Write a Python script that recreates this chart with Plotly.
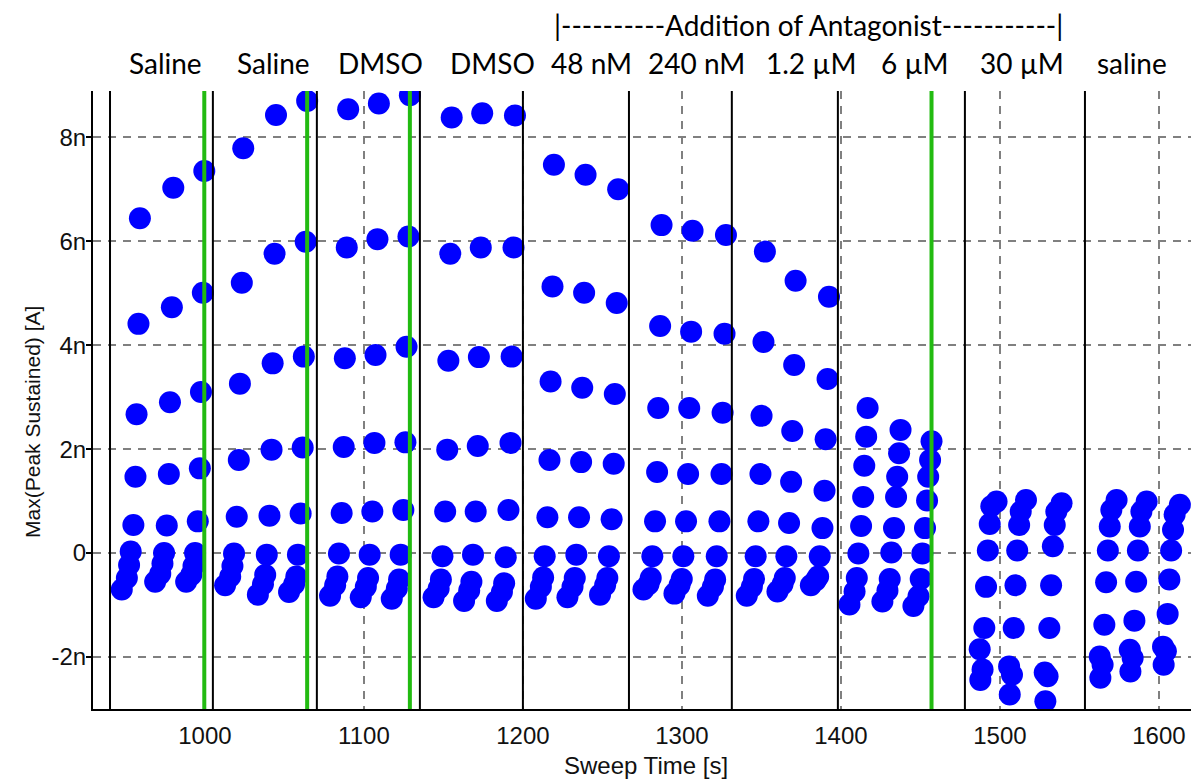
import plotly.graph_objects as go

# ---------------- data ----------------
segment_labels = ["Saline", "Saline", "DMSO", "DMSO", "48 nM", "240 nM",
                  "1.2 µM", "6 µM", "30 µM", "saline"]
header_text = "|----------Addition of Antagonist-----------|"
x_title = "Sweep Time [s]"
y_title = "Max(Peak Sustained) [A]"

# time of the last (highest) step of each sweep [s]
sweep_times = [
    [959.1, 980.1, 999.6],
    [1024.1, 1044.7, 1064.3],
    [1090.1, 1109.4, 1128.9],
    [1155.2, 1174.4, 1195.0],
    [1219.5, 1239.4, 1259.9],
    [1287.2, 1306.7, 1327.7],
    [1352.2, 1371.5, 1392.5],
    [1416.8, 1437.5, 1457.0],
    [1497.9, 1516.4, 1538.8],
    [1573.4, 1592.3, 1613.2],
]

# step time offsets within a sweep [s] (ordered from lowest to highest current)
step_offsets_control = [-11.4, -8.2, -6.8, -5.8, -4.1, -2.8, -2.1, -0.9, 0.0]
step_offsets_blocked = [-10.2, -8.8, -10.6, -7.7, -6.6, -5.5, -4.3, -3.3, 0.0]

# Max(Peak Sustained) per step, in nA, three sweeps per condition
saline1_nA = [[-0.70, -0.48, -0.23, 0.03, 0.54, 1.47, 2.67, 4.41, 6.44],
              [-0.55, -0.40, -0.20, 0.00, 0.53, 1.52, 2.90, 4.73, 7.03],
              [-0.55, -0.42, -0.25, 0.00, 0.61, 1.63, 3.10, 5.01, 7.35]]
saline2_nA = [[-0.62, -0.45, -0.25, -0.01, 0.70, 1.79, 3.26, 5.20, 7.79],
              [-0.80, -0.60, -0.42, -0.03, 0.72, 1.99, 3.65, 5.76, 8.43],
              [-0.75, -0.60, -0.45, -0.03, 0.76, 2.03, 3.78, 5.99, 8.70]]
dmso1_nA = [[-0.82, -0.62, -0.45, -0.01, 0.77, 2.04, 3.75, 5.88, 8.54],
            [-0.85, -0.65, -0.48, -0.03, 0.80, 2.12, 3.81, 6.04, 8.65],
            [-0.88, -0.68, -0.51, -0.03, 0.83, 2.13, 3.97, 6.09, 8.81]]
dmso2_nA = [[-0.85, -0.68, -0.51, -0.06, 0.80, 1.99, 3.70, 5.76, 8.38],
            [-0.92, -0.72, -0.55, -0.03, 0.80, 2.06, 3.77, 5.88, 8.46],
            [-0.92, -0.75, -0.58, -0.08, 0.83, 2.12, 3.78, 5.88, 8.42]]
ant_48nM_nA = [[-0.88, -0.65, -0.47, -0.06, 0.69, 1.79, 3.30, 5.13, 7.47],
               [-0.85, -0.65, -0.48, -0.03, 0.69, 1.75, 3.18, 5.01, 7.28],
               [-0.80, -0.62, -0.48, -0.06, 0.65, 1.72, 3.06, 4.81, 7.00]]
ant_240nM_nA = [[-0.70, -0.60, -0.48, -0.06, 0.61, 1.56, 2.79, 4.37, 6.31],
                [-0.78, -0.62, -0.50, -0.06, 0.61, 1.52, 2.79, 4.26, 6.20],
                [-0.82, -0.65, -0.51, -0.06, 0.61, 1.52, 2.70, 4.22, 6.12]]
ant_1p2uM_nA = [[-0.82, -0.65, -0.50, -0.06, 0.61, 1.52, 2.64, 4.06, 5.80],
                [-0.74, -0.60, -0.48, -0.06, 0.58, 1.37, 2.35, 3.62, 5.24],
                [-0.62, -0.52, -0.45, -0.06, 0.48, 1.20, 2.19, 3.35, 4.93]]
ant_6uM_nA = [[-0.99, -0.74, -0.48, -0.01, 0.52, 1.08, 1.68, 2.24, 2.79],
              [-0.93, -0.72, -0.50, 0.01, 0.48, 1.08, 1.47, 1.92, 2.37],
              [-1.02, -0.83, -0.50, -0.01, 0.48, 1.01, 1.47, 1.79, 2.15]]
ant_30uM_nA = [[-2.44, -2.24, -1.85, -1.44, -0.65, 0.05, 0.56, 0.90, 0.99],
               [-2.72, -2.34, -2.18, -1.44, -0.62, 0.05, 0.54, 0.80, 1.02],
               [-2.85, -2.37, -2.30, -1.44, -0.62, 0.13, 0.54, 0.80, 0.96]]
washout_nA = [[-2.40, -2.15, -1.99, -1.38, -0.56, 0.05, 0.51, 0.83, 1.02],
              [-2.28, -2.02, -1.86, -1.30, -0.55, 0.05, 0.51, 0.80, 0.99],
              [-2.15, -1.89, -1.80, -1.17, -0.51, 0.05, 0.45, 0.74, 0.93]]

segments_nA = [saline1_nA, saline2_nA, dmso1_nA, dmso2_nA, ant_48nM_nA,
               ant_240nM_nA, ant_1p2uM_nA, ant_6uM_nA, ant_30uM_nA, washout_nA]

separator_times = [940.3, 1005.0, 1070.4, 1135.2, 1200.0, 1266.7, 1331.4,
                   1398.1, 1478.0, 1553.5]
marker_times = [999.6, 1064.3, 1128.9, 1457.0]

x_ticks = [1000, 1100, 1200, 1300, 1400, 1500, 1600]
y_ticks = [-2e-9, 0, 2e-9, 4e-9, 6e-9, 8e-9]
y_tick_text = ["-2n", "0", "2n", "4n", "6n", "8n"]

# ---------------- layout positions ----------------
label_x = [975.5, 1043.4, 1110.7, 1180.8, 1243.1, 1309.4, 1381.1, 1446.5,
           1513.6, 1582.8]
header_x = 1379.7

# ---------------- build ----------------
xs, ys = [], []
for seg_i, seg in enumerate(segments_nA):
    offsets = step_offsets_blocked if seg_i >= 8 else step_offsets_control
    for sw_i, sweep in enumerate(seg):
        t_end = sweep_times[seg_i][sw_i]
        for k, v in enumerate(sweep):
            xs.append(t_end + offsets[k])
            ys.append(v * 1e-9)

fig = go.Figure()
fig.add_trace(go.Scatter(
    x=xs, y=ys, mode="markers",
    marker=dict(size=22, color="#0000ff", line=dict(width=0)),
    showlegend=False, hoverinfo="skip"))

for t in separator_times:
    fig.add_shape(type="line", xref="x", yref="paper", x0=t, x1=t, y0=0, y1=1,
                  line=dict(color="black", width=2), layer="above")
for t in marker_times:
    fig.add_shape(type="line", xref="x", yref="paper", x0=t, x1=t, y0=0, y1=1,
                  line=dict(color="#22bb11", width=4), layer="above")

label_font = dict(family="Lato", size=28, color="black")
for txt, lx in zip(segment_labels, label_x):
    fig.add_annotation(x=lx, xref="x", y=1.045, yref="paper", text=txt,
                       showarrow=False, xanchor="center", yanchor="middle",
                       font=label_font)
fig.add_annotation(x=header_x, xref="x", y=1.107, yref="paper", text=header_text,
                   showarrow=False, xanchor="center", yanchor="middle",
                   font=label_font)

title_font = dict(family="Liberation Sans", size=24, color="#111111")
fig.add_annotation(x=0.5035, xref="paper", y=-0.0922, yref="paper", text=x_title,
                   showarrow=False, xanchor="center", yanchor="middle",
                   font=title_font)
fig.add_annotation(x=-0.0556, xref="paper", y=0.4644, yref="paper", text=y_title,
                   showarrow=False, xanchor="center", yanchor="middle",
                   textangle=-90,
                   font=dict(family="Liberation Sans", size=21, color="#111111"))

axis_font = dict(family="Liberation Sans", size=24, color="#111111")
grid_kw = dict(showgrid=True, gridcolor="#808080", gridwidth=2, griddash="8px,7px",
               zeroline=False, showline=True, linecolor="black", linewidth=2)

fig.update_xaxes(range=[929.6, 1620.2], tickvals=x_ticks, ticks="outside",
                 ticklen=4, tickcolor="rgba(0,0,0,0)", tickfont=axis_font,
                 **grid_kw)
fig.update_yaxes(range=[-3.0e-9, 8.89e-9], tickvals=y_ticks, ticktext=y_tick_text,
                 ticks="outside", ticklen=5, tickwidth=2, tickcolor="black",
                 tickfont=axis_font, ticklabelstandoff=-5,
                 **grid_kw)

fig.update_layout(width=1191, height=782, margin=dict(l=93, r=0, t=91, b=73),
                  plot_bgcolor="white", paper_bgcolor="white")

fig.write_html("out.html")
